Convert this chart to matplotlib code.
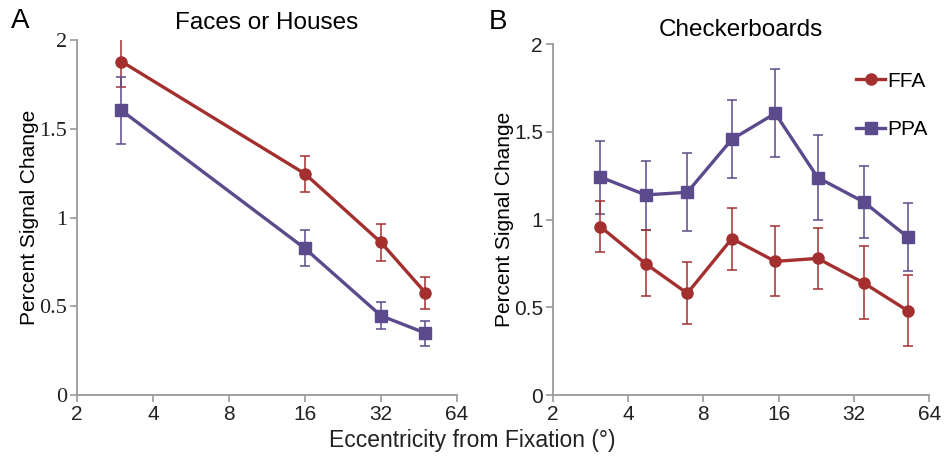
#!/usr/bin/env python3
"""
FFA / PPA percent signal change vs eccentricity (two panels)
"""

import matplotlib
matplotlib.use("Agg")
import matplotlib.pyplot as plt
from matplotlib.lines import Line2D
from matplotlib.ticker import FixedLocator, NullLocator

# Panel A: faces or houses
ecc_a = [3, 16, 32, 48]
ffa_a = [1.88, 1.247, 0.86, 0.576]
ffa_a_lo = [1.735, 1.144, 0.753, 0.483]
ffa_a_hi = [2.02, 1.35, 0.963, 0.666]
ppa_a = [1.604, 0.826, 0.447, 0.349]
ppa_a_lo = [1.414, 0.728, 0.37, 0.278]
ppa_a_hi = [1.793, 0.931, 0.522, 0.419]

# Panel B: checkerboards
ecc_b = [3.1, 4.7, 6.9, 10.4, 15.5, 22.9, 35.0, 52.4]
ffa_b = [0.96, 0.749, 0.58, 0.892, 0.762, 0.779, 0.639, 0.481]
ffa_b_lo = [0.817, 0.563, 0.403, 0.715, 0.565, 0.606, 0.432, 0.281]
ffa_b_hi = [1.105, 0.94, 0.76, 1.065, 0.964, 0.954, 0.85, 0.683]
ppa_b = [1.243, 1.141, 1.156, 1.458, 1.606, 1.24, 1.101, 0.901]
ppa_b_lo = [1.034, 0.943, 0.933, 1.236, 1.356, 1.0, 0.895, 0.707]
ppa_b_hi = [1.451, 1.337, 1.382, 1.681, 1.861, 1.483, 1.304, 1.097]

x_ticks = [2, 4, 8, 16, 32, 64]
y_ticks = [0, 0.5, 1, 1.5, 2]
y_tick_labels = ['0', '0.5', '1', '1.5', '2']

RED = '#a3302f'
PURPLE = '#5c4b8c'
GRAY = '#9a9a9a'

SANS = ['Liberation Sans', 'DejaVu Sans']
NARROW = ['Liberation Sans Narrow', 'Liberation Sans', 'DejaVu Sans']
SERIF = ['Liberation Serif', 'DejaVu Serif']


def errs(y, lo, hi):
    return [[v - l for v, l in zip(y, lo)], [h - v for v, h in zip(y, hi)]]


def draw_series(ax, x, y, lo, hi, color, marker):
    ax.errorbar(x, y, yerr=errs(y, lo, hi), color=color, linewidth=2.4,
                marker=marker, markersize=8, elinewidth=1.1, capsize=3.5,
                capthick=1.1)


def style_axis(ax, tick_family, ysize):
    ax.set_xscale('log', base=2)
    ax.set_xlim(2, 64)
    ax.set_ylim(0, 2)
    ax.xaxis.set_major_locator(FixedLocator(x_ticks))
    ax.xaxis.set_minor_locator(NullLocator())
    ax.set_xticklabels([str(t) for t in x_ticks], family=NARROW, fontsize=15)
    ax.set_yticks(y_ticks)
    ax.set_yticklabels(y_tick_labels, family=tick_family, fontsize=ysize)
    for side in ['top', 'right']:
        ax.spines[side].set_visible(False)
    for side in ['left', 'bottom']:
        ax.spines[side].set_color(GRAY)
        ax.spines[side].set_linewidth(1.3)
    ax.tick_params(direction='out', length=5, width=1.2, color=GRAY,
                   labelcolor='#222222', pad=2)
    ax.set_ylabel('Percent Signal Change', family=SANS, fontsize=15,
                  labelpad=0)


fig = plt.figure(figsize=(9.44, 4.65), dpi=100)
ax1 = fig.add_axes([0.0816, 0.1505, 0.4025, 0.763])
ax2 = fig.add_axes([0.5855, 0.1505, 0.399, 0.7543])

draw_series(ax1, ecc_a, ffa_a, ffa_a_lo, ffa_a_hi, RED, 'o')
draw_series(ax1, ecc_a, ppa_a, ppa_a_lo, ppa_a_hi, PURPLE, 's')
style_axis(ax1, SERIF, 16)
ax1.set_title('Faces or Houses', family=SANS, fontsize=17.5, pad=8)

draw_series(ax2, ecc_b, ppa_b, ppa_b_lo, ppa_b_hi, PURPLE, 's')
draw_series(ax2, ecc_b, ffa_b, ffa_b_lo, ffa_b_hi, RED, 'o')
style_axis(ax2, SANS, 15)
ax2.set_title('Checkerboards', family=SANS, fontsize=17.5, pad=6)

# legend: plain line + marker handles, no error bars
handles = [Line2D([], [], color=RED, marker='o', markersize=8, linewidth=2.4),
           Line2D([], [], color=PURPLE, marker='s', markersize=8, linewidth=2.4)]
ax2.legend(handles, ['FFA', 'PPA'], loc='upper right',
           bbox_to_anchor=(1.045, 0.975), frameon=False,
           handlelength=1.4, handletextpad=0.1, labelspacing=1.4,
           prop={'family': SANS, 'size': 15})

fig.text(0.012, 0.955, 'A', family=SANS, fontsize=20, va='center', ha='left')
fig.text(0.518, 0.952, 'B', family=SANS, fontsize=20, va='center', ha='left')
fig.text(0.5, 0.052, 'Eccentricity from Fixation (°)', family=SANS,
         fontsize=16.5, ha='center', va='center', color='#222222')

fig.savefig('out.png', dpi=100)
